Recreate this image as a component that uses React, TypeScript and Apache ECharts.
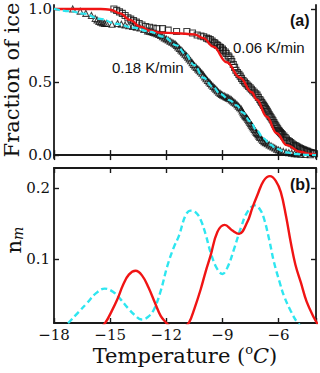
import React, { useEffect, useRef } from "react";
import * as echarts from "echarts";

// ---------- data ----------
const xTicks = [-18, -15, -12, -9, -6];
const topYTicks = [0, 0.5, 1.0];
const botYTicks = [0.1, 0.2];

// Panel (a): measured fractions of ice (0.06 K/min, squares)
const squares006: number[][] = [
  [-14.8, 1.0], [-14.65, 0.99], [-14.5, 0.98], [-14.35, 0.97], [-14.2, 0.955], [-14.05, 0.94],
  [-13.9, 0.93], [-13.75, 0.92], [-13.6, 0.91], [-13.45, 0.9], [-13.3, 0.89], [-13.1, 0.88],
  [-12.9, 0.875], [-12.7, 0.87], [-12.5, 0.865], [-12.2, 0.865], [-11.9, 0.855], [-11.45, 0.846],
  [-10.9, 0.846], [-10.6, 0.835], [-10.35, 0.822], [-10.15, 0.815], [-10.0, 0.81], [-9.85, 0.8],
  [-9.75, 0.795], [-9.65, 0.79], [-9.55, 0.78], [-9.45, 0.77], [-9.4, 0.765], [-9.3, 0.755],
  [-9.25, 0.75], [-9.15, 0.74], [-9.1, 0.735], [-9.0, 0.725], [-8.95, 0.715], [-8.85, 0.705],
  [-8.8, 0.695], [-8.7, 0.68], [-8.65, 0.67], [-8.55, 0.655], [-8.5, 0.64], [-8.42, 0.62],
  [-8.35, 0.6], [-8.28, 0.58], [-8.2, 0.565], [-8.12, 0.552], [-8.05, 0.54], [-7.98, 0.525],
  [-7.9, 0.51], [-7.82, 0.5], [-7.75, 0.49], [-7.68, 0.48], [-7.6, 0.47], [-7.52, 0.46],
  [-7.45, 0.45], [-7.38, 0.44], [-7.3, 0.43], [-7.22, 0.42], [-7.15, 0.41], [-7.08, 0.395],
  [-7.0, 0.38], [-6.95, 0.37], [-6.9, 0.36], [-6.85, 0.35], [-6.8, 0.34], [-6.75, 0.33],
  [-6.7, 0.32], [-6.65, 0.31], [-6.6, 0.3], [-6.55, 0.288], [-6.5, 0.275], [-6.45, 0.265],
  [-6.4, 0.255], [-6.35, 0.245], [-6.3, 0.235], [-6.25, 0.222], [-6.2, 0.21], [-6.15, 0.2],
  [-6.1, 0.19], [-6.05, 0.18], [-6.0, 0.17], [-5.95, 0.162], [-5.9, 0.155], [-5.85, 0.148],
  [-5.8, 0.14], [-5.72, 0.13], [-5.65, 0.12], [-5.58, 0.11], [-5.5, 0.1], [-5.42, 0.092],
  [-5.35, 0.085], [-5.28, 0.078], [-5.2, 0.07], [-5.12, 0.065], [-5.05, 0.06], [-4.98, 0.055],
  [-4.9, 0.05], [-4.82, 0.045], [-4.75, 0.04], [-4.68, 0.036], [-4.6, 0.032], [-4.52, 0.028],
  [-4.45, 0.025], [-4.38, 0.021], [-4.3, 0.018], [-4.22, 0.015], [-4.15, 0.012], [-4.08, 0.009],
];
// Panel (a): measured fractions of ice (0.18 K/min, triangles)
const triangles018: number[][] = [
  [-17.0, 1.0], [-16.6, 0.985], [-16.3, 0.97], [-16.0, 0.955], [-15.8, 0.935], [-15.7, 0.925],
  [-15.6, 0.915], [-15.5, 0.91], [-15.4, 0.905], [-15.3, 0.9], [-15.2, 0.9], [-14.9, 0.895],
  [-14.6, 0.9], [-14.4, 0.895], [-14.2, 0.89], [-14.0, 0.885], [-13.8, 0.88], [-13.6, 0.875],
  [-13.4, 0.87], [-13.2, 0.86], [-13.0, 0.85], [-12.9, 0.848], [-12.8, 0.845], [-12.7, 0.84],
  [-12.6, 0.835], [-12.5, 0.83], [-12.4, 0.825], [-12.3, 0.818], [-12.2, 0.81], [-12.1, 0.802],
  [-12.0, 0.795], [-11.9, 0.788], [-11.8, 0.78], [-11.7, 0.772], [-11.6, 0.765], [-11.52, 0.758],
  [-11.45, 0.75], [-11.38, 0.74], [-11.3, 0.73], [-11.22, 0.72], [-11.15, 0.71], [-11.08, 0.7],
  [-11.0, 0.69], [-10.92, 0.68], [-10.85, 0.67], [-10.78, 0.658], [-10.7, 0.645], [-10.62, 0.632],
  [-10.55, 0.62], [-10.48, 0.61], [-10.4, 0.6], [-10.32, 0.59], [-10.25, 0.58], [-10.18, 0.57],
  [-10.1, 0.56], [-10.02, 0.548], [-9.95, 0.535], [-9.88, 0.522], [-9.8, 0.51], [-9.72, 0.5],
  [-9.65, 0.49], [-9.58, 0.48], [-9.5, 0.47], [-9.42, 0.46], [-9.35, 0.45], [-9.28, 0.44],
  [-9.2, 0.43], [-9.12, 0.422], [-9.05, 0.415], [-8.98, 0.41], [-8.9, 0.405], [-8.82, 0.4],
  [-8.75, 0.395], [-8.68, 0.39], [-8.6, 0.385], [-8.52, 0.378], [-8.45, 0.37], [-8.38, 0.362],
  [-8.3, 0.355], [-8.22, 0.345], [-8.15, 0.335], [-8.08, 0.325], [-8.0, 0.315], [-7.95, 0.302],
  [-7.9, 0.29], [-7.85, 0.28], [-7.8, 0.27], [-7.75, 0.262], [-7.7, 0.255], [-7.65, 0.245],
  [-7.6, 0.235], [-7.55, 0.225], [-7.5, 0.215], [-7.45, 0.205], [-7.4, 0.195], [-7.35, 0.185],
  [-7.3, 0.175], [-7.25, 0.165], [-7.2, 0.155], [-7.15, 0.148], [-7.1, 0.14], [-7.05, 0.13],
  [-7.0, 0.12], [-6.92, 0.11], [-6.85, 0.1], [-6.78, 0.092], [-6.7, 0.085], [-6.6, 0.078],
  [-6.5, 0.07], [-6.4, 0.062], [-6.3, 0.055], [-6.2, 0.048], [-6.1, 0.04], [-6.0, 0.035],
  [-5.9, 0.03], [-5.75, 0.025], [-5.6, 0.02], [-5.45, 0.016], [-5.3, 0.013], [-5.15, 0.01],
  [-5.0, 0.008], [-4.8, 0.006], [-4.6, 0.004], [-4.3, 0.002],
];
// Panel (a): fitted curves
const fitRed006: number[][] = [
  [-18, 1.0], [-15.5, 1.0], [-15.0, 0.995], [-14.47, 0.97], [-13.94, 0.925], [-13.4, 0.879],
  [-12.87, 0.851], [-12.33, 0.838], [-11.44, 0.834], [-10.5, 0.826], [-10.02, 0.8], [-9.49, 0.742],
  [-8.77, 0.635], [-8.06, 0.53], [-7.43, 0.43], [-7.17, 0.38], [-6.63, 0.262], [-6.1, 0.149],
  [-5.56, 0.068], [-4.85, 0.023], [-4.4, 0.01], [-4.0, 0.004],
];
const fitCyan018: number[][] = [
  [-18, 1.0], [-17.15, 0.985], [-16.43, 0.968], [-15.54, 0.932], [-14.65, 0.898], [-13.76, 0.872],
  [-12.87, 0.845], [-12.16, 0.81], [-11.44, 0.75], [-11.0, 0.695], [-10.5, 0.615], [-10.02, 0.53],
  [-9.5, 0.465], [-9.13, 0.42], [-8.6, 0.375], [-8.24, 0.34], [-7.9, 0.29], [-7.52, 0.23],
  [-7.15, 0.165], [-6.81, 0.115], [-6.45, 0.072], [-6.1, 0.043], [-5.6, 0.018], [-5.0, 0.006],
  [-4.5, 0.002], [-4.0, 0.0],
];
// Panel (b): n_m distributions
const nmRed006: number[][] = [
  [-15.6, 0.0], [-15.24, 0.011], [-14.95, 0.025], [-14.62, 0.043], [-14.3, 0.064], [-14.0, 0.078],
  [-13.64, 0.0834], [-13.3, 0.077], [-12.95, 0.06], [-12.6, 0.038], [-12.3, 0.02], [-12.03, 0.011],
  [-11.8, 0.005], [-11.5, 0.0], [-11.1, 0.003], [-10.78, 0.011], [-10.5, 0.03], [-10.16, 0.0575],
  [-9.9, 0.082], [-9.63, 0.105], [-9.27, 0.138], [-8.88, 0.148], [-8.47, 0.14], [-8.11, 0.1354],
  [-7.67, 0.152], [-7.4, 0.172], [-7.13, 0.19], [-6.8, 0.21], [-6.46, 0.2166], [-6.15, 0.21],
  [-5.88, 0.194], [-5.6, 0.16], [-5.35, 0.1235], [-5.1, 0.092], [-4.81, 0.067], [-4.5, 0.04],
  [-4.1, 0.017], [-3.9, 0.008],
];
const nmCyan018: number[][] = [
  [-17.6, 0.0], [-17.2, 0.011], [-16.7, 0.025], [-16.22, 0.0385], [-15.75, 0.052], [-15.29, 0.0584],
  [-14.85, 0.054], [-14.44, 0.0433], [-14.05, 0.031], [-13.72, 0.022], [-13.33, 0.015], [-13.0, 0.018],
  [-12.66, 0.029], [-12.3, 0.055], [-11.94, 0.0905], [-11.62, 0.115], [-11.32, 0.133], [-10.96, 0.162],
  [-10.69, 0.168], [-10.4, 0.165], [-10.16, 0.155], [-9.9, 0.135], [-9.63, 0.109], [-9.3, 0.087],
  [-9.0, 0.079], [-8.7, 0.09], [-8.38, 0.114], [-8.0, 0.145], [-7.67, 0.166], [-7.27, 0.1755],
  [-7.0, 0.17], [-6.78, 0.157], [-6.5, 0.127], [-6.24, 0.095], [-5.95, 0.068], [-5.71, 0.048],
  [-5.35, 0.027], [-5.0, 0.011], [-4.7, 0.004],
];

const RED = "#f01414";
const CYAN = "#2ee6f0";
const SERIF = "DejaVu Serif";
const SANS = "Liberation Sans";

export default function App() {
  const ref = useRef<HTMLDivElement>(null);
  useEffect(() => {
    if (!ref.current) return;
    const chart = echarts.init(ref.current, undefined, { renderer: "svg" });
    const frame = { show: true, lineStyle: { color: "#1a1a1a", width: 1.8 } };
    const tick = (vals?: number[]) => ({
      show: true,
      inside: true,
      length: 5,
      lineStyle: { color: "#1a1a1a", width: 1.4 },
      ...(vals ? { customValues: vals } : {}),
    });
    const xBase = {
      type: "value" as const,
      min: -18,
      max: -4,
      interval: 3,
      splitLine: { show: false },
      axisLine: frame,
    };
    const minusFmt = (v: number) => String(v).replace("-", "\u2212");
    const option: any = {
      animation: false,
      grid: [
        { left: 54, top: 5, width: 262, height: 153, containLabel: false, outerBoundsMode: "none" },
        { left: 54, top: 168, width: 262, height: 155, containLabel: false, outerBoundsMode: "none" },
      ],
      xAxis: [
        { ...xBase, gridIndex: 0, position: "bottom", axisTick: tick(), axisLabel: { show: false } },
        { ...xBase, gridIndex: 0, position: "top", axisTick: tick(), axisLabel: { show: false } },
        {
          ...xBase,
          gridIndex: 1,
          position: "bottom",
          axisTick: tick(),
          axisLabel: {
            show: true,
            formatter: minusFmt,
            fontFamily: SERIF,
            fontSize: 15,
            color: "#111",
            margin: 4,
            customValues: xTicks,
          },
          name: "Temperature ({sup|o}{it|C})",
          nameLocation: "middle",
          nameGap: 19,
          nameTextStyle: {
            fontFamily: SERIF,
            fontSize: 21,
            color: "#111",
            lineHeight: 26,
            rich: {
              sup: { fontFamily: SERIF, fontSize: 13, verticalAlign: "top", lineHeight: 14, color: "#111" },
              it: { fontFamily: SERIF, fontSize: 21, fontStyle: "italic", lineHeight: 26, color: "#111" },
            },
          },
        },
        { ...xBase, gridIndex: 1, position: "top", axisTick: tick(), axisLabel: { show: false } },
      ],
      yAxis: [
        {
          type: "value",
          gridIndex: 0,
          min: -0.02,
          max: 1.027,
          position: "left",
          splitLine: { show: false },
          axisLine: frame,
          axisTick: tick(topYTicks),
          axisLabel: {
            customValues: topYTicks,
            formatter: (v: number) => v.toFixed(1),
            fontFamily: SERIF,
            fontSize: 15,
            color: "#111",
            margin: 2,
          },
        },
        {
          type: "value",
          gridIndex: 0,
          min: -0.02,
          max: 1.027,
          position: "right",
          splitLine: { show: false },
          axisLine: frame,
          axisTick: tick(topYTicks),
          axisLabel: { show: false, customValues: topYTicks },
        },
        {
          type: "value",
          gridIndex: 1,
          min: 0.01,
          max: 0.228,
          position: "left",
          splitLine: { show: false },
          axisLine: frame,
          axisTick: tick(botYTicks),
          axisLabel: {
            customValues: botYTicks,
            formatter: (v: number) => v.toFixed(1),
            fontFamily: SERIF,
            fontSize: 15,
            color: "#111",
            margin: 4,
          },
        },
        {
          type: "value",
          gridIndex: 1,
          min: 0.01,
          max: 0.228,
          position: "right",
          splitLine: { show: false },
          axisLine: frame,
          axisTick: tick(botYTicks),
          axisLabel: { show: false, customValues: botYTicks },
        },
      ],
      series: [
        {
          type: "scatter",
          xAxisIndex: 0,
          yAxisIndex: 0,
          data: squares006,
          symbol: "rect",
          symbolSize: 6,
          itemStyle: { color: "rgba(255,255,255,0)", borderColor: "#111", borderWidth: 1.1 },
          z: 2,
        },
        {
          type: "scatter",
          xAxisIndex: 0,
          yAxisIndex: 0,
          data: triangles018,
          symbol: "triangle",
          symbolSize: 6,
          itemStyle: { color: "rgba(255,255,255,0)", borderColor: "#111", borderWidth: 1.1 },
          z: 2,
        },
        {
          type: "line",
          xAxisIndex: 0,
          yAxisIndex: 0,
          data: fitRed006,
          showSymbol: false,
          smooth: 0.4,
          smoothMonotone: "x",
          lineStyle: { color: RED, width: 2.4 },
          z: 4,
        },
        {
          type: "line",
          xAxisIndex: 0,
          yAxisIndex: 0,
          data: fitCyan018,
          showSymbol: false,
          smooth: 0.4,
          smoothMonotone: "x",
          lineStyle: { color: CYAN, width: 2.2, type: [6, 3] },
          z: 4,
        },
        {
          type: "line",
          xAxisIndex: 2,
          yAxisIndex: 2,
          data: nmCyan018,
          showSymbol: false,
          smooth: 0.4,
          clip: true,
          lineStyle: { color: CYAN, width: 2.4, type: [6, 3.5] },
          z: 3,
        },
        {
          type: "line",
          xAxisIndex: 2,
          yAxisIndex: 2,
          data: nmRed006,
          showSymbol: false,
          smooth: 0.4,
          clip: true,
          lineStyle: { color: RED, width: 2.4 },
          z: 4,
        },
      ],
      graphic: [
        {
          type: "text",
          x: 12,
          y: 80,
          rotation: Math.PI / 2,
          style: {
            text: "Fraction of ice",
            fontFamily: SERIF,
            fontSize: 21,
            fill: "#111",
            align: "center",
            verticalAlign: "middle",
          },
        },
        {
          type: "text",
          x: 14,
          y: 240,
          rotation: Math.PI / 2,
          style: {
            text: "n{sub|m}",
            fontFamily: SERIF,
            fontSize: 21,
            fill: "#111",
            align: "center",
            verticalAlign: "middle",
            rich: {
              sub: { fontFamily: SERIF, fontSize: 14, fontStyle: "italic", verticalAlign: "bottom", fill: "#111" },
            },
          },
        },
        {
          type: "text",
          left: 290,
          top: 12,
          style: { text: "(a)", fontFamily: SANS, fontWeight: "bold", fontSize: 16, fill: "#111" },
        },
        {
          type: "text",
          left: 290,
          top: 176,
          style: { text: "(b)", fontFamily: SANS, fontWeight: "bold", fontSize: 16, fill: "#111" },
        },
        {
          type: "text",
          left: 233,
          top: 40,
          style: { text: "0.06 K/min", fontFamily: SANS, fontSize: 15, fill: "#111" },
        },
        {
          type: "text",
          left: 112,
          top: 60,
          style: { text: "0.18 K/min", fontFamily: SANS, fontSize: 15, fill: "#111" },
        },
      ],
    };
    chart.setOption(option);
    return () => chart.dispose();
  }, []);
  return (
    <div
      ref={ref}
      style={{ position: "absolute", left: 0, top: 0, width: 320, height: 373, background: "#fff" }}
    />
  );
}
